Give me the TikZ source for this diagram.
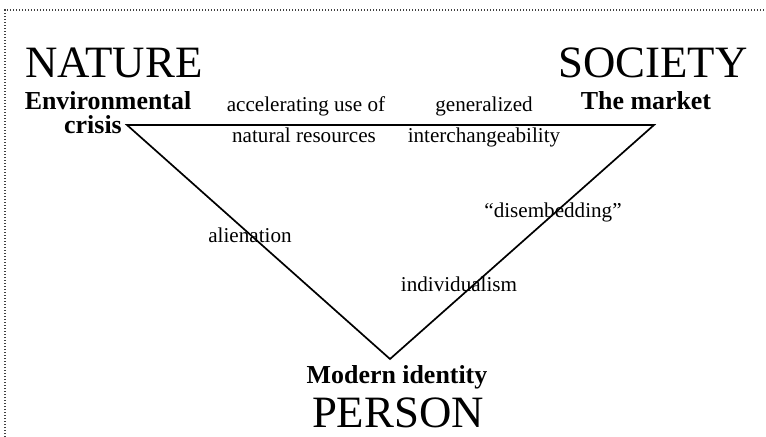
\documentclass[tikz,border=0pt]{standalone}
\usepackage{fontspec}
\setmainfont{Liberation Serif}
\definecolor{triInk}{HTML}{000000}
\definecolor{triFrame}{HTML}{404040}
\tikzset{
  tri frame/.style={draw=triFrame, line width=1.1bp, dash pattern=on 1.1bp off 1.9bp},
  tri edge/.style={draw=triInk, line width=1.7bp, line join=miter},
  tri pole/.style={font=\fontsize{45}{47}\selectfont, text=triInk, anchor=base, inner sep=0pt},
  tri label/.style={font=\fontsize{26}{28}\selectfont\bfseries, text=triInk, anchor=base, inner sep=0pt},
  tri small label/.style={font=\fontsize{21.2}{23}\selectfont, text=triInk, anchor=base, inner sep=0pt},
}
\begin{document}
\begin{tikzpicture}[x=1bp,y=-1bp]
  \useasboundingbox (0,0) rectangle (766,437);
  \draw[tri frame] (5,437) -- (5,10) -- (766,10);
  % corners of the triangle
  \coordinate (nat) at (127,125);
  \coordinate (soc) at (654,125);
  \coordinate (per) at (390,359);
  \draw[tri edge] (nat) -- (soc) -- (per) -- cycle;
  % poles
  \node[tri pole] (nature) at (114,78) {NATURE};
  \node[tri pole] (society) at (653,78) {SOCIETY};
  \node[tri pole] (person) at (398,427) {PERSON};
  \node[tri label] (envir) at (108,110) {Environmental};
  \node[tri label] (crisis) at (93,134) {crisis};
  \node[tri label] (market) at (646,110) {The market};
  \node[tri label] (modern) at (397,383) {Modern identity};
  % along the sides
  \node[tri small label] (accel) at (306,112) {accelerating use of};
  \node[tri small label] (natres) at (304,143) {natural resources};
  \node[tri small label] (general) at (484,112) {generalized};
  \node[tri small label] (interch) at (484,143) {interchangeability};
  \node[tri small label] (alien) at (250,243) {alienation};
  \node[tri small label] (disemb) at (553,218) {“disembedding”};
  \node[tri small label] (indiv) at (459,292) {individualism};
\end{tikzpicture}
\end{document}
